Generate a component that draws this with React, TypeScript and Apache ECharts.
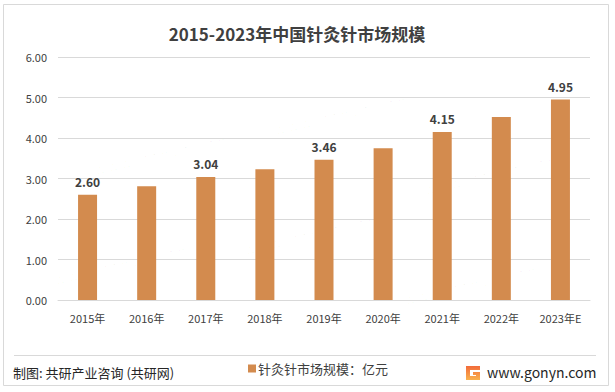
import React, { useEffect, useRef } from "react";
import * as echarts from "echarts";

const categories = ["2015年", "2016年", "2017年", "2018年", "2019年", "2020年", "2021年", "2022年", "2023年E"];
const values = [2.6, 2.81, 3.04, 3.23, 3.46, 3.75, 4.15, 4.52, 4.95];
const labeledIndexes = [0, 2, 4, 6, 8];
const yTicks = [0, 1, 2, 3, 4, 5, 6];

const titleText = "2015-2023年中国针灸针市场规模";
const legendName = "针灸针市场规模：亿元";
const sourceText = "制图: 共研产业咨询 (共研网)";
const siteText = "www.gonyn.com";

const FONT = "'Noto Sans CJK SC', 'Microsoft YaHei', sans-serif";

echarts.graphic.registerShape(
  "gLogo",
  echarts.graphic.extendPath("M0 0 H14 V4 H4 V10 H10 V9 H7 V6 H14 V14 H0 Z", {})
);

const watermarkPositions = [
  [170, 130], [350, 90], [500, 150], [130, 240], [320, 210], [480, 260],
];

export default function App() {
  const ref = useRef<HTMLDivElement>(null);
  useEffect(() => {
    if (!ref.current) return;
    const chart = echarts.init(ref.current, undefined, { renderer: "svg" });
    const watermarks: any[] = [];
    watermarkPositions.forEach(([x, y]) => {
      watermarks.push({
        type: "text",
        x,
        y,
        rotation: Math.PI / 14,
        z: 0,
        silent: true,
        style: {
          text: "共研产业咨询",
          font: `bold 24px ${FONT}`,
          fill: "rgba(0,0,0,0.022)",
          align: "center",
          verticalAlign: "middle",
        },
      });
      watermarks.push({
        type: "text",
        x: x - 8,
        y: y + 24,
        rotation: Math.PI / 14,
        z: 0,
        silent: true,
        style: {
          text: "w w w . g o n y n . c o m",
          font: `13px ${FONT}`,
          fill: "rgba(0,0,0,0.028)",
          align: "center",
          verticalAlign: "middle",
        },
      });
    });
    chart.setOption({
      animation: false,
      backgroundColor: "#ffffff",
      title: {
        text: titleText,
        left: 292,
        top: 20,
        textAlign: "center",
        textStyle: { fontFamily: FONT, fontSize: 17, fontWeight: "bold", color: "#404040" },
      },
      grid: { left: 58, right: 25, top: 57, bottom: 92, containLabel: false },
      legend: {
        show: true,
        left: 243,
        top: 357,
        itemWidth: 8,
        itemHeight: 8,
        itemGap: 0,
        icon: "rect",
        textStyle: { fontFamily: FONT, fontSize: 13, color: "#404040", padding: [0, 0, 0, -3] },
        data: [legendName],
      },
      xAxis: {
        type: "category",
        data: categories,
        axisLine: { show: true, lineStyle: { color: "#d9d9d9" } },
        axisTick: { show: false },
        axisLabel: { fontFamily: FONT, fontSize: 11, color: "#404040", margin: 12 },
      },
      yAxis: {
        type: "value",
        min: yTicks[0],
        max: yTicks[yTicks.length - 1],
        interval: 1,
        axisLine: { show: false },
        axisTick: { show: false },
        splitLine: { lineStyle: { color: "#d9d9d9" } },
        axisLabel: {
          fontFamily: FONT,
          fontSize: 11,
          color: "#404040",
          margin: 11,
          formatter: (v: number) => v.toFixed(2),
        },
      },
      series: [
        {
          name: legendName,
          type: "bar",
          barWidth: 19,
          data: values.map((v, i) => ({
            value: v,
            label: { show: labeledIndexes.includes(i) },
          })),
          itemStyle: { color: "#D38B4E" },
          label: {
            position: "top",
            distance: 7,
            fontFamily: FONT,
            fontSize: 12,
            fontWeight: "bold",
            color: "#404040",
            formatter: (p: any) => Number(p.value).toFixed(2),
          },
          z: 3,
        },
      ],
      graphic: [
        ...watermarks,
        {
          type: "rect",
          silent: true,
          z: -1,
          shape: { x: 3.5, y: 4.5, width: 605, height: 381 },
          style: { fill: "none", stroke: "#d9d9d9", lineWidth: 1 },
        },
        {
          type: "line",
          silent: true,
          shape: { x1: 14, y1: 355.5, x2: 596, y2: 355.5 },
          style: { stroke: "#d9d9d9", lineWidth: 1 },
        },
        {
          type: "text",
          x: 13,
          y: 372,
          style: {
            text: sourceText,
            font: `13px ${FONT}`,
            fill: "#262626",
            verticalAlign: "middle",
          },
        },
        {
          type: "gLogo",
          x: 466,
          y: 366,
          scaleX: 1,
          scaleY: 1,
          style: {
            fill: new echarts.graphic.LinearGradient(0, 0, 0, 1, [
              { offset: 0, color: "#F26B3A" },
              { offset: 1, color: "#F9B24E" },
            ]),
          },
        },
        {
          type: "text",
          x: 487,
          y: 372,
          style: {
            text: siteText,
            font: `14px ${FONT}`,
            fill: "#262626",
            verticalAlign: "middle",
          },
        },
      ],
    });
    return () => chart.dispose();
  }, []);
  return <div ref={ref} style={{ width: 615, height: 392, position: "fixed", left: 0, top: 0 }} />;
}
